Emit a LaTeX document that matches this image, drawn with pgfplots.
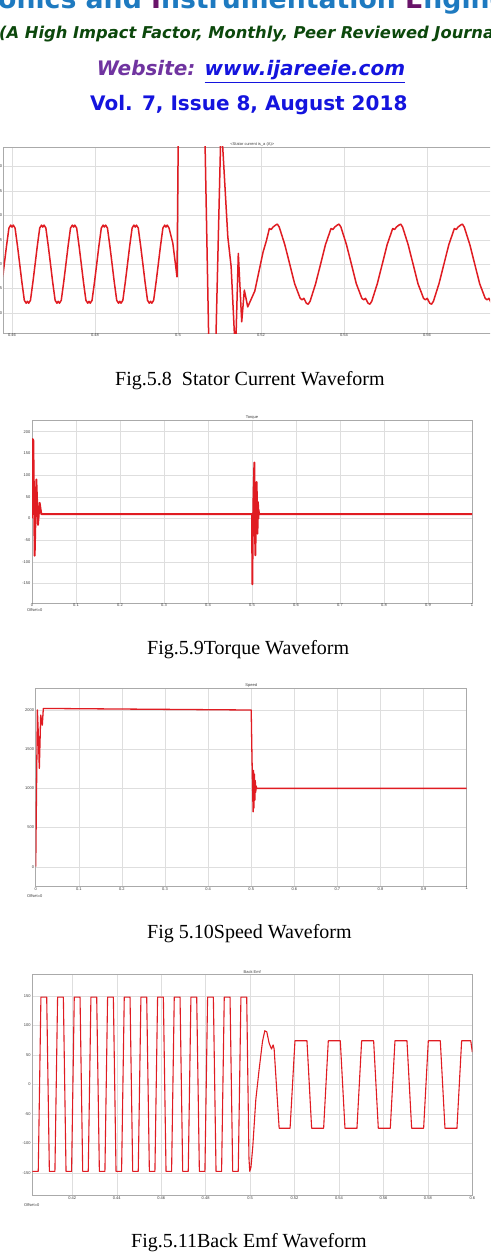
\documentclass[border=0pt]{standalone}
\usepackage{pgfplots}
\pgfplotsset{compat=1.18}
\usepackage{fontspec}
\setmainfont{Liberation Serif}
\newfontfamily\dvs{DejaVu Sans}
\newfontfamily\lsans{Liberation Sans}
\definecolor{mred}{RGB}{224,28,34}
\definecolor{axgray}{RGB}{170,170,170}
\definecolor{gridgray}{RGB}{222,222,222}
\definecolor{tkgray}{RGB}{60,60,60}
\definecolor{hblue}{RGB}{30,122,192}
\definecolor{hpurple}{RGB}{105,20,105}
\definecolor{hgreen}{RGB}{12,72,12}
\definecolor{wpurple}{RGB}{112,52,160}
\definecolor{ublue}{RGB}{20,20,222}
\newcommand\tk{\lsans\fontsize{4}{4.5}\selectfont}
\pgfplotsset{
  wf/.style={scale only axis, anchor=south west,
    axis line style={draw=axgray,line width=0.6pt},
    grid=major, major grid style={draw=gridgray,line width=0.45pt},
    major tick length=0pt,
    ticklabel style={font=\tk, text=tkgray},
    xticklabel style={inner sep=1pt},
    yticklabel style={inner sep=1.5pt},
    every axis title shift=0pt,
    title style={font=\tk, text=tkgray, inner sep=0.6pt},
    /pgf/number format/assume math mode=true,
    every axis plot/.append style={line join=round}}
}
\begin{document}
\begin{tikzpicture}
\useasboundingbox (0pt,0pt) rectangle (490pt,-1252pt);
\fill[white] (0pt,0pt) rectangle (490pt,-1252pt);
\clip (0pt,0pt) rectangle (490pt,-1252pt);

% ---------- header ----------
\node[anchor=base west, inner sep=0pt, text=hblue, font=\dvs\bfseries\fontsize{26.7}{30}\selectfont] at (-2pt,-9pt)
  {onics and \textcolor{hpurple}{I}nstrumentation \textcolor{hpurple}{E}ngineering};
\node[anchor=base west, inner sep=0pt, text=hgreen, font=\dvs\bfseries\itshape\fontsize{16.3}{18}\selectfont] at (-1pt,-39pt)
  {(A High Impact Factor, Monthly, Peer Reviewed Journal)};
\node[anchor=base west, inner sep=0pt, font=\dvs\bfseries\itshape\fontsize{20}{22}\selectfont] at (96.7pt,-76pt)
  {\textcolor{wpurple}{Website:} \textcolor{ublue}{\underline{www.ijareeie.com}}};
\node[anchor=base west, inner sep=0pt, text=ublue, font=\dvs\bfseries\fontsize{20}{22}\selectfont] at (90pt,-111pt)
  {Vol. 7, Issue 8, August 2018};

% ---------- Fig 5.8 stator current ----------
\begin{axis}[wf, at={(3.7pt,-333pt)}, width=497.2pt, height=186pt,
  xmin=0.458, xmax=0.5778, ymin=-14.1, ymax=24,
  xtick={0.46,0.48,0.5,0.52,0.54,0.56},
  xticklabels={0.46,0.48,0.5,0.52,0.54,0.56},
  ytick={-10,-5,0,5,10,15,20},
  yticklabels={-10,-5,0,5,10,15,20},
  title={<Stator current is\_a (A)>}]
\addplot[mred, line width=1.5pt] coordinates {
(0.45763,-3.6) (0.45814,0) (0.45866,3.6) (0.45926,7.4) (0.4597,8.0) (0.46,7.6) (0.4603,8.0) (0.46074,7.4) (0.46134,3.6) (0.46186,0) (0.46237,-3.6) (0.46297,-7.4) (0.46341,-8) (0.46371,-7.6) (0.46401,-8) (0.46445,-7.4) (0.46505,-3.6) (0.46557,0) (0.46608,3.6) (0.46668,7.4)
(0.46712,8) (0.46742,7.6) (0.46772,8) (0.46816,7.4) (0.46876,3.6) (0.46928,0) (0.46979,-3.6) (0.47039,-7.4) (0.47083,-8) (0.47113,-7.6) (0.47143,-8) (0.47187,-7.4) (0.47247,-3.6) (0.47299,0) (0.4735,3.6) (0.4741,7.4)
(0.47454,8) (0.47484,7.6) (0.47514,8) (0.47558,7.4) (0.47618,3.6) (0.4767,0) (0.47721,-3.6) (0.47781,-7.4) (0.47825,-8) (0.47855,-7.6) (0.47885,-8) (0.47929,-7.4) (0.47989,-3.6) (0.48041,0) (0.48092,3.6) (0.48152,7.4)
(0.48196,8) (0.48226,7.6) (0.48256,8) (0.483,7.4) (0.4836,3.6) (0.48412,0) (0.48463,-3.6) (0.48523,-7.4) (0.48567,-8) (0.48597,-7.6) (0.48627,-8) (0.48671,-7.4) (0.48731,-3.6) (0.48783,0) (0.48834,3.6) (0.48894,7.4)
(0.48938,8) (0.48968,7.6) (0.48998,8) (0.49042,7.4) (0.49102,3.6) (0.49154,0) (0.49205,-3.6) (0.49265,-7.4) (0.49309,-8) (0.49339,-7.6) (0.49369,-8) (0.49413,-7.4) (0.49473,-3.6) (0.49525,0) (0.49576,3.6) (0.49636,7.4)
(0.4968,8) (0.4971,7.6) (0.4974,8) (0.49784,7.4) (0.49875,4.3) (0.49976,-2.6)
(0.5001,30) (0.5035,90) (0.5064,30) (0.5075,-20) (0.5082,-30) (0.5090,-20) (0.5104,30) (0.5107,26) (0.51077,24) (0.5120,5.6) (0.5128,-0.5) (0.51357,-14) (0.5138,-17) (0.5140,-14) (0.51453,2.2) (0.51535,-11.8) (0.51598,-5.3) (0.5168,-8.75)
(0.5185,-5.5) (0.5195,-1.5) (0.5205,2.5) (0.5213,4.8)
(0.52201,7.3) (0.52246,7.1) (0.5229,7.6) (0.5235,8.0) (0.52394,8.2) (0.52439,7.6) (0.52573,4) (0.52692,0) (0.5281,-4) (0.52944,-7) (0.52989,-7.3) (0.53033,-7) (0.53093,-8) (0.53137,-8.2) (0.53182,-7.6) (0.53316,-4) (0.53435,0) (0.53553,4)
(0.53687,7.3) (0.53732,7.1) (0.53776,7.6) (0.53836,8) (0.5388,8.2) (0.53925,7.6) (0.54059,4) (0.54178,0) (0.54296,-4) (0.5443,-7) (0.54475,-7.3) (0.54519,-7) (0.54579,-8) (0.54623,-8.2) (0.54668,-7.6) (0.54802,-4) (0.54921,0) (0.55039,4)
(0.55173,7.3) (0.55218,7.1) (0.55262,7.6) (0.55322,8) (0.55366,8.2) (0.55411,7.6) (0.55545,4) (0.55664,0) (0.55782,-4) (0.55916,-7) (0.55961,-7.3) (0.56005,-7) (0.56065,-8) (0.56109,-8.2) (0.56154,-7.6) (0.56288,-4) (0.56407,0) (0.56525,4)
(0.56659,7.3) (0.56704,7.1) (0.56748,7.6) (0.56808,8) (0.56852,8.2) (0.56897,7.6) (0.57031,4) (0.5715,0) (0.57268,-4) (0.57402,-7) (0.57447,-7.3) (0.57491,-7) (0.57551,-8) (0.57595,-8.2) (0.5764,-7.6) (0.57774,-4) (0.57893,0)
};
\end{axis}
\node[anchor=base west, inner sep=0pt, font=\fontsize{20}{22}\selectfont] at (115pt,-385pt) {Fig.5.8\ \ Stator Current Waveform};

% ---------- Fig 5.9 torque ----------
\begin{axis}[wf, at={(32pt,-603pt)}, width=440pt, height=183pt,
  xmin=0, xmax=1, ymin=-195, ymax=227,
  xtick={0,0.1,0.2,0.3,0.4,0.5,0.6,0.7,0.8,0.9,1},
  xticklabels={0,0.1,0.2,0.3,0.4,0.5,0.6,0.7,0.8,0.9,1},
  ytick={-150,-100,-50,0,50,100,150,200},
  yticklabels={-150,-100,-50,0,50,100,150,200},
  title={Torque}]
\addplot[mred, line width=1.9pt] coordinates {
(0,0) (0.0014,183) (0.003,180) (0.0061,-86) (0.0099,90) (0.0136,-15) (0.0174,36) (0.0212,10)
(0.5,10) (0.5008,-152) (0.5015,-60) (0.5035,60) (0.5053,129) (0.5065,0) (0.5076,-85) (0.509,0) (0.5106,84) (0.5115,20) (0.5124,-35) (0.513,0) (0.5136,38) (0.5145,0) (0.515,20) (0.516,10) (1,10)
};
\end{axis}
\node[anchor=west, inner sep=0pt, font=\tk, text=tkgray] at (27pt,-610.5pt) {Offset=0};
\node[anchor=base west, inner sep=0pt, font=\fontsize{20}{22}\selectfont] at (147pt,-654pt) {Fig.5.9Torque Waveform};

% ---------- Fig 5.10 speed ----------
\begin{axis}[wf, at={(35.7pt,-886pt)}, width=431pt, height=197.7pt,
  xmin=0, xmax=1, ymin=-246, ymax=2277,
  xtick={0,0.1,0.2,0.3,0.4,0.5,0.6,0.7,0.8,0.9,1},
  xticklabels={0,0.1,0.2,0.3,0.4,0.5,0.6,0.7,0.8,0.9,1},
  ytick={0,500,1000,1500,2000},
  yticklabels={0,500,1000,1500,2000},
  title={Speed}]
\addplot[mred, line width=1.3pt] coordinates {
(0,0) (0.0039,2000) (0.006,1700) (0.0084,1255) (0.0116,1935) (0.0153,1807) (0.0177,2020) (0.02,2020)
(0.5,2000) (0.5015,1500) (0.503,1050) (0.5045,700) (0.5055,1230) (0.5065,750) (0.5075,1180) (0.5085,850) (0.5095,1100) (0.5105,950) (0.5115,1030) (0.513,1000) (1,1000)
};
\end{axis}
\node[anchor=west, inner sep=0pt, font=\tk, text=tkgray] at (27pt,-896pt) {Offset=0};
\node[anchor=base west, inner sep=0pt, font=\fontsize{20}{22}\selectfont] at (147pt,-938pt) {Fig 5.10Speed Waveform};

% ---------- Fig 5.11 back emf ----------
\begin{axis}[wf, at={(32.3pt,-1195pt)}, width=440pt, height=221pt,
  xmin=0.402, xmax=0.6, ymin=-187, ymax=187,
  xtick={0.42,0.44,0.46,0.48,0.5,0.52,0.54,0.56,0.58,0.6},
  xticklabels={0.42,0.44,0.46,0.48,0.5,0.52,0.54,0.56,0.58,0.6},
  ytick={-150,-100,-50,0,50,100,150},
  yticklabels={-150,-100,-50,0,50,100,150},
  title={Back Emf}]
\addplot[mred, line width=1.1pt] coordinates {
(0.402,-147) (0.40468,-147) (0.40588,148) (0.40848,148) (0.40968,-147) (0.41218,-147)
(0.41338,148) (0.41598,148) (0.41718,-147) (0.41968,-147)
(0.42088,148) (0.42348,148) (0.42468,-147) (0.42718,-147)
(0.42838,148) (0.43098,148) (0.43218,-147) (0.43468,-147)
(0.43588,148) (0.43848,148) (0.43968,-147) (0.44218,-147)
(0.44338,148) (0.44598,148) (0.44718,-147) (0.44968,-147)
(0.45088,148) (0.45348,148) (0.45468,-147) (0.45718,-147)
(0.45838,148) (0.46098,148) (0.46218,-147) (0.46468,-147)
(0.46588,148) (0.46848,148) (0.46968,-147) (0.47218,-147)
(0.47338,148) (0.47598,148) (0.47718,-147) (0.47968,-147)
(0.48088,148) (0.48348,148) (0.48468,-147) (0.48718,-147)
(0.48838,148) (0.49098,148) (0.49218,-147) (0.49468,-147)
(0.49588,148) (0.49848,148) (0.4995,-125) (0.49986,-147) (0.5004,-140) (0.50122,-105) (0.50257,-26) (0.50406,25) (0.50559,73) (0.50663,91) (0.50753,89) (0.50857,70) (0.50965,60) (0.51037,67) (0.51083,60)
(0.51308,-74) (0.5180,-74) (0.5202,74) (0.5256,74) (0.5277,-74) (0.5331,-74) (0.5352,74) (0.5406,74) (0.5427,-74) (0.5481,-74) (0.5502,74) (0.5556,74) (0.5577,-74) (0.5631,-74) (0.5652,74) (0.5706,74) (0.5727,-74) (0.5781,-74) (0.5802,74) (0.5856,74) (0.5877,-74) (0.5931,-74) (0.5952,74) (0.5993,74) (0.6,55)
};
\end{axis}
\node[anchor=west, inner sep=0pt, font=\tk, text=tkgray] at (24pt,-1205pt) {Offset=0};
\node[anchor=base west, inner sep=0pt, font=\fontsize{20}{22}\selectfont] at (131pt,-1247pt) {Fig.5.11Back Emf Waveform};
\end{tikzpicture}
\end{document}
